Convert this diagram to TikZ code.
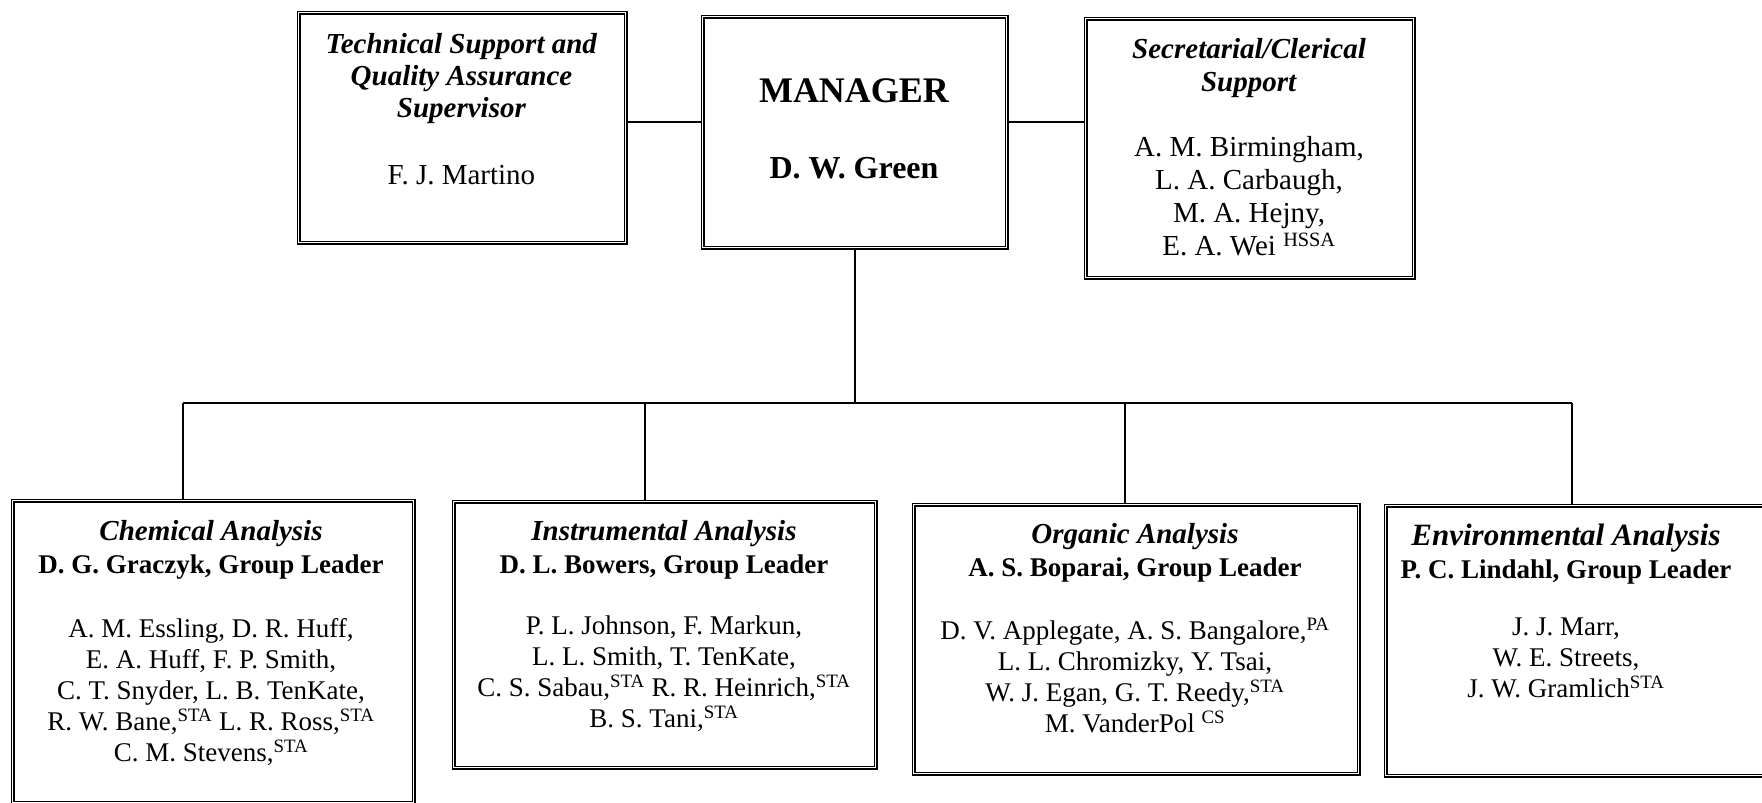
\documentclass[tikz,border=0pt]{standalone}
\usepackage{fontspec}
\setmainfont{Liberation Serif}
\begin{document}
\begin{tikzpicture}[x=1pt,y=-1pt,
  box/.style={draw=black, double=white, line width=1.6pt, double distance=1.2pt, rectangle, inner sep=0pt, anchor=north west},
  conn/.style={draw=black, line width=2pt},
  txt/.style={anchor=north, inner sep=0pt, align=center},
  grouptxt/.style={txt, font=\fontsize{27}{31}\selectfont},
]
\fill[white] (0,0) rectangle (1762,803);
\useasboundingbox (0,0) rectangle (1762,803);

% top boxes
\node[box, minimum width=327pt, minimum height=230pt] (tech) at (298,12) {};
\node[box, minimum width=304pt, minimum height=231pt] (mgr)  at (702,16) {};
\node[box, minimum width=328pt, minimum height=259pt] (sec)  at (1085,18) {};

% bottom boxes
\node[box, minimum width=401pt, minimum height=302pt] (chem)  at (12,500) {};
\node[box, minimum width=422pt, minimum height=266pt] (instr) at (453,501) {};
\node[box, minimum width=445pt, minimum height=269pt] (org)   at (913,504) {};
\node[box, minimum width=390pt, minimum height=270pt] (env)   at (1385,505) {};

% texts
\node[txt, font=\fontsize{29}{32}\selectfont] (techtxt) at (461.5,31)
  {\rule{0pt}{22pt}\textbf{\textit{Technical Support and}}\\
   \textbf{\textit{Quality Assurance}}\\
   \textbf{\textit{Supervisor}}\\[35pt]
   F.\ J.\ Martino};

\node[txt, font=\bfseries\fontsize{32}{38}\selectfont] (mgrtxt) at (854,75)
  {\rule{0pt}{27pt}{\fontsize{36}{38}\selectfont MANAGER}\\[38pt]
   D.\ W.\ Green};

\node[txt, font=\fontsize{29}{33}\selectfont] (sectxt) at (1249,36)
  {\rule{0pt}{22pt}\textbf{\textit{Secretarial/Clerical}}\\
   \textbf{\textit{Support}}\\[32pt]
   A.\ M.\ Birmingham,\\
   L.\ A.\ Carbaugh,\\
   M.\ A.\ Hejny,\\
   E.\ A.\ Wei \textsuperscript{HSSA}};

\node[grouptxt] (chemtxt) at (211,518)
  {\rule{0pt}{22pt}{\fontsize{29}{31}\selectfont\bfseries\itshape Chemical Analysis}\\[2pt]
   \textbf{D.\ G.\ Graczyk, Group Leader}\\[33pt]
   A.\ M.\ Essling, D.\ R.\ Huff,\\
   E.\ A.\ Huff, F.\ P.\ Smith,\\
   C.\ T.\ Snyder, L.\ B.\ TenKate,\\
   R.\ W.\ Bane,\textsuperscript{STA} L.\ R.\ Ross,\textsuperscript{STA}\\
   C.\ M.\ Stevens,\textsuperscript{STA}};

\node[grouptxt] (instrtxt) at (664,518)
  {\rule{0pt}{22pt}{\fontsize{29}{31}\selectfont\bfseries\itshape Instrumental Analysis}\\[2pt]
   \textbf{D.\ L.\ Bowers, Group Leader}\\[30pt]
   P.\ L.\ Johnson, F.\ Markun,\\
   L.\ L.\ Smith, T.\ TenKate,\\
   C.\ S.\ Sabau,\textsuperscript{STA} R.\ R.\ Heinrich,\textsuperscript{STA}\\
   B.\ S.\ Tani,\textsuperscript{STA}};

\node[grouptxt] (orgtxt) at (1135,521)
  {\rule{0pt}{22pt}{\fontsize{29}{31}\selectfont\bfseries\itshape Organic Analysis}\\[2pt]
   \textbf{A.\ S.\ Boparai, Group Leader}\\[32pt]
   D.\ V.\ Applegate, A.\ S.\ Bangalore,\textsuperscript{PA}\\
   L.\ L.\ Chromizky, Y.\ Tsai,\\
   W.\ J.\ Egan, G.\ T.\ Reedy,\textsuperscript{STA}\\
   M.\ VanderPol \textsuperscript{CS}};

\node[grouptxt] (envtxt) at (1566,523)
  {\rule{0pt}{22pt}{\fontsize{31}{31}\selectfont\bfseries\itshape Environmental Analysis}\\[2pt]
   \textbf{P.\ C.\ Lindahl, Group Leader}\\[26pt]
   J.\ J.\ Marr,\\
   W.\ E.\ Streets,\\
   J.\ W.\ Gramlich\textsuperscript{STA}};

% connectors
\coordinate (hy) at (0,122);
\coordinate (bus) at (0,403);
\coordinate (d1) at (183,403);
\coordinate (d2) at (645,403);
\coordinate (d3) at (1125,403);
\coordinate (d4) at (1572,403);

\draw[conn] (tech.east |- hy) -- (mgr.west |- hy);
\draw[conn] (mgr.east |- hy) -- (sec.west |- hy);
\draw[conn] (mgr.south) -- (mgr.south |- bus);
\draw[conn] (d1) -- (d4);
\draw[conn] (d1) -- (d1 |- chem.north);
\draw[conn] (d2) -- (d2 |- instr.north);
\draw[conn] (d3) -- (d3 |- org.north);
\draw[conn] (d4) -- (d4 |- env.north);
\end{tikzpicture}
\end{document}
